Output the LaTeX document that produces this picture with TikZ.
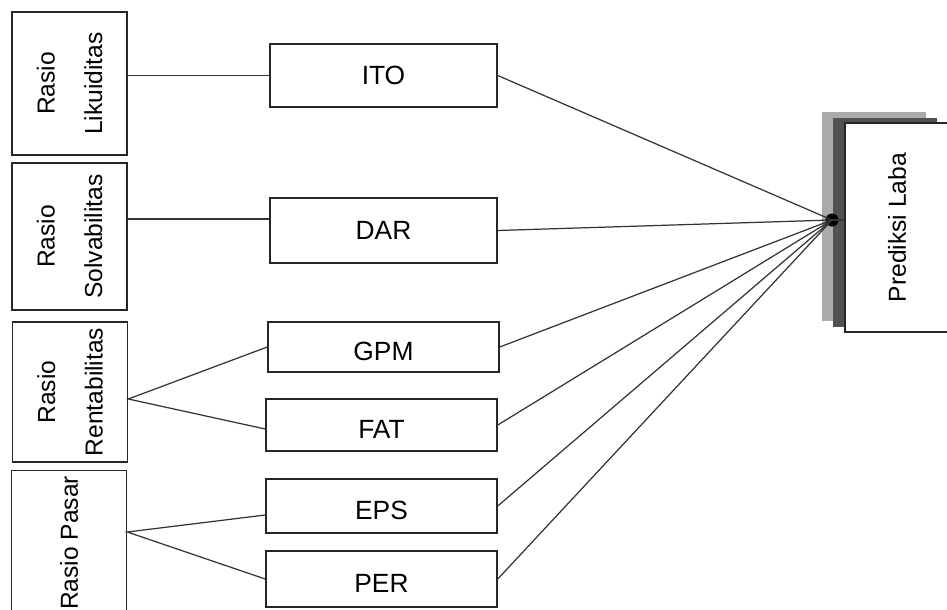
\documentclass[tikz,border=0pt]{standalone}
\usepackage{fontspec}
\setmainfont{Liberation Sans}
\usetikzlibrary{shadows}

\begin{document}
\begin{tikzpicture}[
  x=0.02cm, y=-0.02cm,
  every node/.style={font=\fontsize{14}{16}\selectfont},
  rasio/.style={
    rectangle, draw=black!85, line width=0.9pt,
    minimum width=2.3cm, inner sep=0pt},
  rtext/.style={rotate=90, align=center, font=\fontsize{14}{27}\selectfont},
  var/.style={
    rectangle, draw=black!85, line width=0.9pt, fill=white,
    minimum width=4.62cm, inner sep=0pt,
    font=\fontsize{15}{18}\selectfont},
  low/.style={text height=0.55cm, text depth=0pt},
  predbox/.style={
    rectangle, draw=black!85, line width=0.9pt, fill=white,
    minimum width=2.08cm, minimum height=4.18cm, inner sep=0pt,
    general shadow={shadow xshift=-0.46cm, shadow yshift=0.22cm, fill=black!33},
    general shadow={shadow xshift=-0.24cm, shadow yshift=0.1cm, fill=black!68}},
  hub/.style={circle, fill=black, inner sep=0pt, minimum size=0.26cm},
  conn/.style={draw=black!80, line width=0.7pt},
]
\clip (0,0) rectangle (947,609);

% kelompok rasio
\node[rasio, minimum height=2.86cm] (lik) at (69.5,83.5) {};
\node[rtext] at (lik) {Rasio\\Likuiditas};
\node[rasio, minimum height=2.94cm] (sol) at (69.5,236.5) {};
\node[rtext] at (sol) {Rasio\\Solvabilitas};
\node[rasio, minimum height=2.8cm] (ren) at (70,392) {};
\node[rtext] at (ren) {Rasio\\Rentabilitas};
\node[rasio, minimum height=2.98cm] (pas) at (69,545) {};
\node[rtext] at ([yshift=0.04cm]pas) {Rasio Pasar};

% variabel
\node[var, minimum width=4.54cm, minimum height=1.26cm] (ito) at (383.5,75.5) {ITO};
\node[var, minimum width=4.54cm, minimum height=1.3cm] (dar) at (383.5,230.5) {DAR};
\node[var, low, minimum height=1.0cm] (gpm) at (383.5,347) {GPM};
\node[var, low, minimum height=1.04cm] (fat) at (381.5,425) {FAT};
\node[var, low, minimum height=1.08cm] (eps) at (381.5,506) {EPS};
\node[var, low, minimum height=1.12cm] (per) at (381.5,579) {PER};

% prediksi
\node[predbox] (pred) at (897,227.5) {};
\node[rtext] at (pred) {Prediksi Laba};
\node[hub] (hub) at (832,220) {};

\coordinate (darin) at ([yshift=0.23cm]dar.west);
\coordinate (renout) at ([yshift=-0.14cm]ren.east);
\coordinate (pasout) at ([yshift=0.26cm]pas.east);

\draw[conn] (lik.east |- ito.west) -- (ito.west);
\draw[conn] (sol.east |- darin) -- (darin);
\draw[conn] (gpm.west) -- (renout) -- ([yshift=-0.08cm]fat.west);
\draw[conn] ([yshift=-0.18cm]eps.west) -- (pasout) -- (per.west);

\foreach \v in {ito,dar,gpm,fat,eps,per}
  \draw[conn] (\v.east) -- (hub.center);
\draw[conn] (hub.center) -- (pred.west |- hub);

\end{tikzpicture}
\end{document}
